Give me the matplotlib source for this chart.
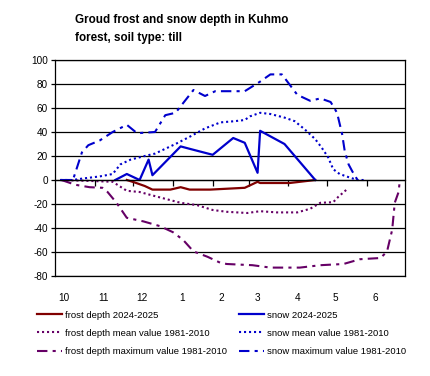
import numpy as np
import matplotlib.pyplot as plt
from matplotlib.ticker import FixedLocator, NullFormatter

# x values are days counted from 1 October
month_labels = ['10', '11', '12', '1', '2', '3', '4', '5', '6']
month_starts = [0, 31, 61, 92, 123, 151, 182, 212, 243, 273]

frost_day = [56, 62, 70, 76, 90, 98, 105, 121, 148, 158, 160, 183, 203]
frost_val = [0, -2, -5, -8, -8, -6, -8, -8, -6.5, -1.5, -2.5, -2.5, 0]

snow_day = [47, 56, 66, 73, 76, 98, 105, 123, 139, 148, 158, 160, 179, 203]
snow_val = [0, 5, 0, 17, 4, 28, 26, 21, 35, 31, 6, 41, 30, 0]

frost_mean_day = [5, 33, 45, 56, 66, 80, 98, 111, 123, 134, 150, 160, 173, 189,
                  199, 207, 217, 221, 228]
frost_mean_val = [0, -1, -1.5, -9, -10, -14, -19, -21, -25, -26.5, -27.5, -26,
                  -27, -27, -24, -19, -18.5, -14, -7.5]

snow_mean_day = [4, 14, 20, 35, 45, 51, 59, 70, 78, 94, 105, 117, 129, 140, 148,
                 152, 160, 168, 179, 187, 195, 203, 208, 213, 217, 222, 230, 236, 242]
snow_mean_val = [0, 0, 1, 3, 5, 13, 17, 20, 22, 30, 36, 43, 48, 49, 50,
                 53, 56, 55, 52, 49, 42, 34, 27, 19, 9, 5, 2, 0, 0]

frost_max_day = [5, 16, 27, 37, 41, 48, 56, 69, 82, 92, 100, 108, 119, 129, 134,
                 154, 168, 191, 207, 225, 238, 254, 259, 263, 265, 268, 269]
frost_max_val = [0, -4, -6, -6.5, -10, -19, -31.5, -34.5, -38.5, -43.5, -50,
                 -59.5, -64, -69, -70, -71, -73, -73, -71, -70, -66, -65, -59.5,
                 -41.5, -19, -10, 0]

snow_max_day = [4, 14, 21, 26, 35, 45, 56, 64, 78, 86, 94, 108, 117, 125, 148,
                160, 168, 177, 189, 199, 207, 215, 220, 224, 226, 229, 232, 236]
snow_max_val = [0, 0, 23, 29, 33, 40, 46, 39, 40, 54, 56, 75, 70, 74, 74,
                82, 88, 88, 71, 66, 68, 65, 56, 38, 24, 13, 7, 0]

plt.rcParams['font.family'] = ['Liberation Sans', 'DejaVu Sans']
plt.rcParams['axes.unicode_minus'] = False

fig = plt.figure(figsize=(4.3, 3.76), dpi=100)
ax = fig.add_axes([55/430, 1 - 276/376, 350/430, 216/376])

red = '#800000'
purple = '#660066'
blue = '#0000cc'
dotted = (0, (1, 1.4))
dashdot = (0, (5, 2.5, 1.5, 2.5))

l1, = ax.plot(frost_day, frost_val, color=red, lw=1.6, label='frost depth 2024-2025')
l2, = ax.plot(snow_day, snow_val, color=blue, lw=1.6, label='snow 2024-2025')
l3, = ax.plot(frost_mean_day, frost_mean_val, color=purple, lw=1.5, ls=dotted,
              label='frost depth mean value 1981-2010')
l4, = ax.plot(snow_mean_day, snow_mean_val, color=blue, lw=1.5, ls=dotted,
              label='snow mean value 1981-2010')
l5, = ax.plot(frost_max_day, frost_max_val, color=purple, lw=1.5, ls=dashdot,
              label='frost depth maximum value 1981-2010')
l6, = ax.plot(snow_max_day, snow_max_val, color=blue, lw=1.5, ls=dashdot,
              label='snow maximum value 1981-2010')

ax.set_xlim(0, 273)
ax.set_ylim(-80, 100)
ax.set_yticks(np.arange(-80, 101, 20))
ax.yaxis.grid(True, color='black', lw=0.9)
ax.set_axisbelow(True)
ax.tick_params(axis='y', labelsize=7.2, length=3, width=0.9, pad=2)

# x axis line at zero with month boundary ticks
ax.spines['bottom'].set_position(('data', 0))
ax.xaxis.set_major_locator(FixedLocator(month_starts[1:-1]))
ax.xaxis.set_major_formatter(NullFormatter())
ax.tick_params(axis='x', length=4, width=0.9, direction='out')
for s in ax.spines.values():
    s.set_linewidth(0.9)

# month labels below the plot area
label_pos = [m + 7 for m in month_starts[:-1]]
sec = ax.secondary_xaxis('bottom')
sec.set_xticks(label_pos)
sec.set_xticklabels(month_labels)
sec.tick_params(length=0, labelsize=7.2, pad=12)
sec.spines['bottom'].set_linewidth(0.9)

fig.text(75/430, 1 - 14/376, 'Groud frost and snow depth in Kuhmo\nforest, soil type: till',
         fontsize=8.4, fontweight='bold', ha='left', va='top', linespacing=1.7)

fig.legend(handles=[l1, l3, l5, l2, l4, l6], loc='upper left',
           bbox_to_anchor=(28/430, 1 - 302/376), ncol=2, frameon=False,
           fontsize=6.8, handlelength=2.65, handletextpad=0.35,
           columnspacing=1.3, labelspacing=0.98, borderpad=0.4)

fig.savefig('out.png', dpi=100, facecolor='white')
